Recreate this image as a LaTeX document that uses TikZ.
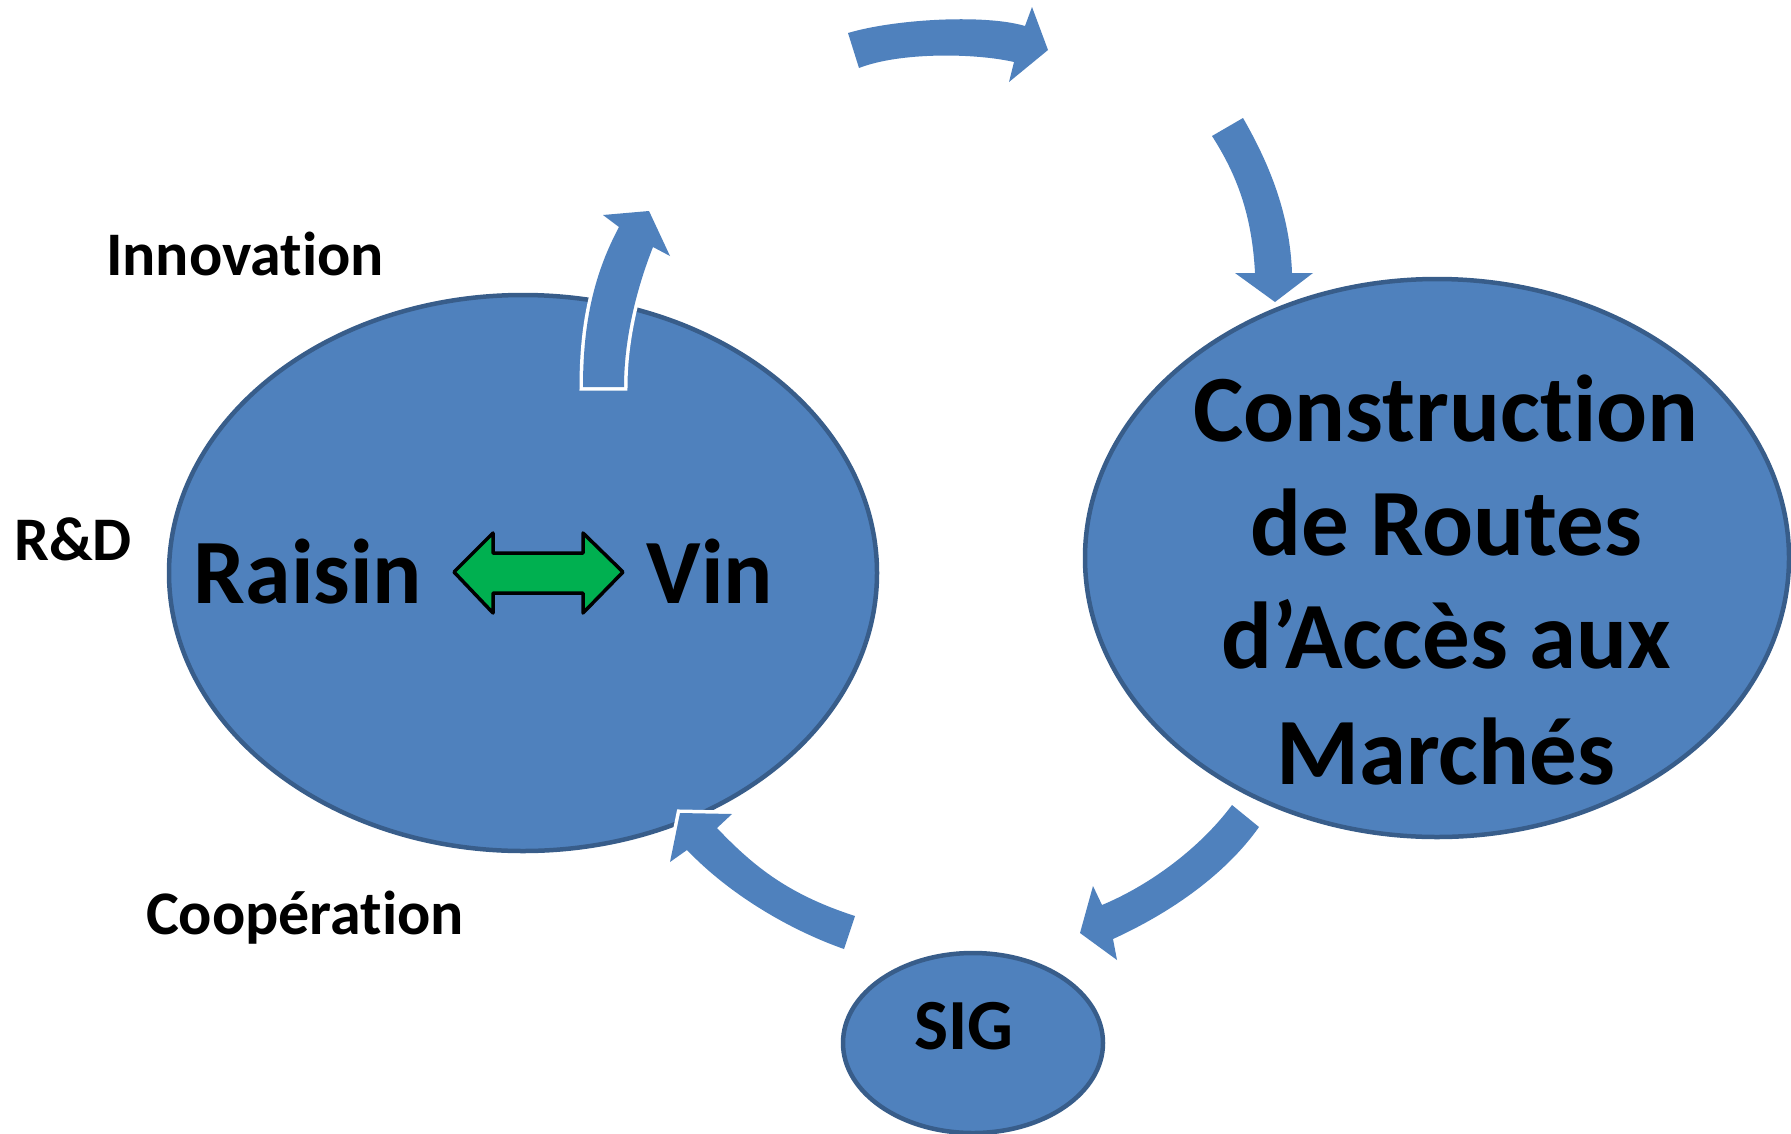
\documentclass[tikz,border=0pt]{standalone}
\usepackage{fontspec}
\setmainfont{Carlito}[Ligatures=NoCommon]
\usetikzlibrary{shapes.geometric}
\definecolor{bfill}{HTML}{4F81BD}
\definecolor{bline}{HTML}{385D8A}
\definecolor{gfill}{HTML}{00B050}
\tikzset{
  bubble/.style={ellipse, fill=bfill, draw=bline, line width=4.5pt, inner sep=0pt},
  blockarrow/.style={fill=bfill, preaction={draw=white, line width=7pt, line join=miter}},
  lbl/.style={anchor=base, inner sep=0pt, font=\fontsize{62}{70}\selectfont\bfseries},
  big/.style={anchor=base, inner sep=0pt, font=\fontsize{92}{110}\selectfont\bfseries},
  route/.style={anchor=base, inner sep=0pt, font=\fontsize{95}{114}\selectfont\bfseries},
}
\begin{document}
\begin{tikzpicture}[x=1pt,y=-1pt]
\useasboundingbox (0,0) rectangle (1791,1133);
% ellipses
\node[bubble, minimum width=708pt, minimum height=556pt] (left) at (523,573) {};
\node[bubble, minimum width=704pt, minimum height=558pt] (right) at (1437,558) {};
\node[bubble, minimum width=260pt, minimum height=180pt] (sig) at (973,1043) {};
% curved block arrows
\path[blockarrow] (583,387) .. controls (583,320) and (595,272) .. (619,227) -- (603,215) -- (649,211) -- (670,256) -- (653,247) .. controls (636,290) and (624,340) .. (624,387) -- cycle;
\path[blockarrow] (848,33) .. controls (895,19) and (985,14) .. (1025,26) -- (1032,7) -- (1048,50) -- (1009,82) -- (1014,62) .. controls (975,53) and (900,52) .. (859,68) -- cycle;
\path[blockarrow] (1243,118) .. controls (1270,165) and (1290,215) .. (1292,273) -- (1313,273) -- (1275,302) -- (1235,273) -- (1255,273) .. controls (1252,215) and (1237,175) .. (1212,136) -- cycle;
\path[blockarrow] (1232,805) .. controls (1200,848) and (1150,885) .. (1102,905) -- (1093,886) -- (1080,933) -- (1117,960) -- (1113,939) .. controls (1170,913) and (1225,875) .. (1259,827) -- cycle;
\path[blockarrow] (855,916) .. controls (790,895) and (755,868) .. (717,828) -- (732,814) -- (680,813) -- (670,862) -- (687,850) .. controls (730,895) and (790,930) .. (844,949) -- cycle;
% green double arrow
\draw[fill=gfill, draw=black, line width=3.5pt, line join=round] (454,572) -- (493,533) -- (493,553) -- (583,553) -- (583,533) -- (623,572) -- (583,613) -- (583,593) -- (493,593) -- (493,613) -- cycle;
% texts
\node[big] (raisin) at (308,603) {Raisin};
\node[big] (vin) at (710,603) {Vin};
\node[route] (l1) at (1446,441) {Construction};
\node[route] (l2) at (1446,555) {de Routes};
\node[route] (l3) at (1446,668) {d’Accès aux};
\node[route] (l4) at (1446,784) {Marchés};
\node[anchor=base, inner sep=0pt, font=\fontsize{72}{80}\selectfont\bfseries] (sigt) at (964,1049) {SIG};
\node[lbl] (innov) at (245,275) {Innovation};
\node[lbl] (rd) at (73,560) {R\&D};
\node[lbl] (coop) at (305,934) {Coopération};
\end{tikzpicture}
\end{document}
